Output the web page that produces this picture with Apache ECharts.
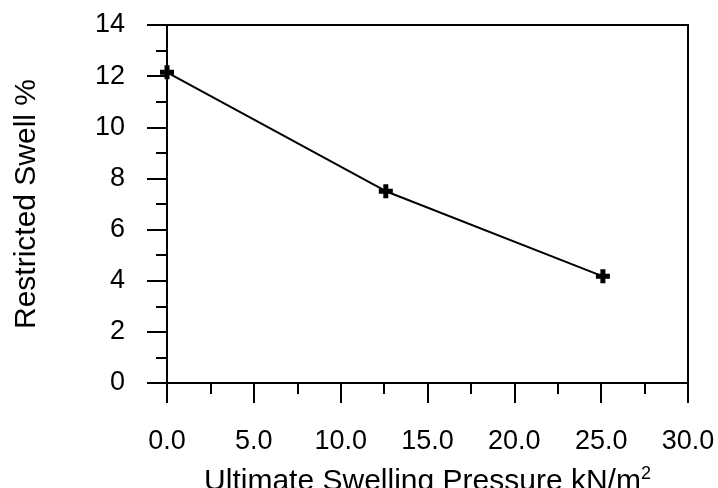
<!DOCTYPE html>
<html>
<head>
<meta charset="utf-8">
<script src="https://cdn.jsdelivr.net/npm/echarts@6/dist/echarts.min.js"></script>
<style>
  html, body { margin: 0; padding: 0; background: #fff; }
  #chart { width: 718px; height: 488px; }
</style>
</head>
<body>
<div id="chart"></div>
<script>
// Swelling pressure (kN/m²) against restricted swell (%)
const pressure = [0, 12.6, 25.1];
const swell = [12.15, 7.5, 4.17];

const xMin = 0, xMax = 30, xStep = 5;
const yMin = 0, yMax = 14, yStep = 2;

const FONT = '"Liberation Sans", Arial, Helvetica, sans-serif';
const plus = 'path://M4.5,0h5v4.5h4.5v5h-4.5v4.5h-5v-4.5h-4.5v-5h4.5z';

const chart = echarts.init(document.getElementById('chart'), null, { renderer: 'canvas' });

const axisCommon = {
  axisLine: { show: true, onZero: false, lineStyle: { color: '#000', width: 2 } },
  axisTick: { show: true, inside: false, length: 20, lineStyle: { color: '#000', width: 2 } },
  minorTick: { show: true, splitNumber: 2, length: 11, lineStyle: { color: '#000', width: 2 } },
  splitLine: { show: false },
  axisLabel: { color: '#000', fontSize: 27, fontFamily: FONT },
  nameTextStyle: { color: '#000', fontSize: 30, fontFamily: FONT }
};

chart.setOption({
  animation: false,
  backgroundColor: '#fff',
  grid: {
    left: 167, right: 30, top: 25, bottom: 105,
    outerBoundsMode: 'none',
    containLabel: false,
    show: true, borderColor: '#000', borderWidth: 2, backgroundColor: 'transparent'
  },
  xAxis: Object.assign({}, axisCommon, {
    type: 'value',
    min: xMin, max: xMax, interval: xStep,
    name: 'Ultimate Swelling Pressure kN/m{sup|2}',
    nameLocation: 'middle',
    nameGap: 82,
    nameTextStyle: Object.assign({}, axisCommon.nameTextStyle, {
      rich: { sup: { fontSize: 18, fontFamily: FONT, color: '#000', verticalAlign: 'top', padding: [0, 0, 16, 0] } }
    }),
    axisLabel: Object.assign({}, axisCommon.axisLabel, {
      margin: 45,
      formatter: v => v.toFixed(1)
    })
  }),
  yAxis: Object.assign({}, axisCommon, {
    type: 'value',
    min: yMin, max: yMax, interval: yStep,
    name: 'Restricted Swell %',
    nameLocation: 'middle',
    nameRotate: 90,
    nameGap: 125,
    axisLabel: Object.assign({}, axisCommon.axisLabel, { margin: 42 })
  }),
  series: [{
    type: 'line',
    data: pressure.map((x, i) => [x, swell[i]]),
    symbol: plus,
    symbolSize: 14,
    itemStyle: { color: '#000' },
    lineStyle: { color: '#000', width: 2 },
    clip: false
  }]
});
</script>
</body>
</html>
